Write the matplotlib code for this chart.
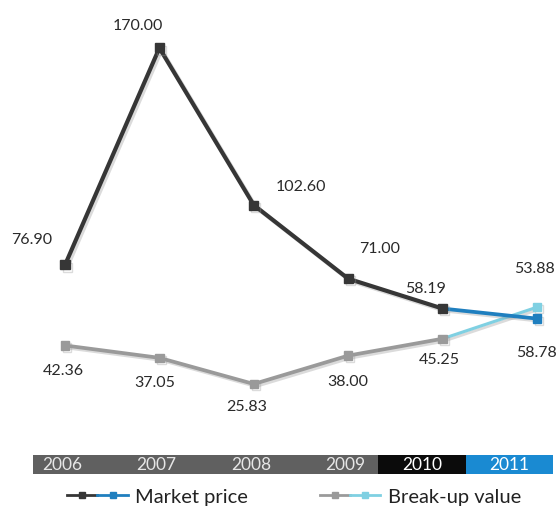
import matplotlib
matplotlib.use("Agg")
import matplotlib.pyplot as plt
import matplotlib.patheffects as pe
from matplotlib.lines import Line2D
from matplotlib.legend_handler import HandlerTuple

# data
years = ["2006", "2007", "2008", "2009", "2010", "2011"]
market_price = [76.90, 170.00, 102.60, 71.00, 58.19, 53.88]
breakup_value = [42.36, 37.05, 25.83, 38.00, 45.25, 58.78]

# label offsets in pixels (dx, dy) from each point
market_offsets = [(-33, 25), (-22, 22), (47, 18), (31, 30), (-17, 20), (-2, 50)]
breakup_offsets = [(-2, -26), (-5, -25), (-7, -23), (0, -26), (-3, -21), (0, -46)]

# year band segments: (first index, last index, colour)
band = [(0, 3, "#606060"), (4, 4, "#0b0b0b"), (5, 5, "#1a8ad2")]

plt.rcParams["font.family"] = ["Lato", "DejaVu Sans"]

dark, blue = "#363636", "#1f7fbf"
grey, cyan = "#9a9a9a", "#7fd0e2"
txt = "#2a2a2a"

fig = plt.figure(figsize=(5.6, 5.15), dpi=100)
ax = fig.add_axes([33 / 560, 75 / 515, 520 / 560, 420 / 515])
x = list(range(len(years)))
xlim = (-0.339, 5.17)

shadow = [pe.SimpleLineShadow(offset=(1.5, -1.5), shadow_color="#999999", alpha=0.35), pe.Normal()]

# grey part of each series, then the coloured last segment
ax.plot(x[-2:], breakup_value[-2:], color=cyan, lw=2.2, marker="s", ms=6,
        markevery=[1], zorder=2, path_effects=shadow)
ax.plot(x[:-1], breakup_value[:-1], color=grey, lw=2.7, marker="s", ms=6,
        zorder=3, path_effects=shadow)
ax.plot(x[-2:], market_price[-2:], color=blue, lw=2.7, marker="s", ms=6,
        markevery=[1], zorder=4, path_effects=shadow)
ax.plot(x[:-1], market_price[:-1], color=dark, lw=3.0, marker="s", ms=6.5,
        zorder=5, path_effects=shadow)

for i in x:
    ax.annotate(f"{market_price[i]:.2f}", (x[i], market_price[i]),
                xytext=market_offsets[i], textcoords="offset pixels",
                ha="center", va="center", fontsize=11.5, color=txt)
    ax.annotate(f"{breakup_value[i]:.2f}", (x[i], breakup_value[i]),
                xytext=breakup_offsets[i], textcoords="offset pixels",
                ha="center", va="center", fontsize=11.5, color=txt)

ax.set_xlim(*xlim)
ax.set_ylim(1.8, 182)
ax.axis("off")

# year band under the chart
bx = fig.add_axes([33 / 560, 41 / 515, 520 / 560, 19 / 515])
bx.set_xlim(*xlim)
bx.set_ylim(0, 1)
edges = [xlim[0], 3.32, 4.25, xlim[1]]
for k, (a, b, col) in enumerate(band):
    bx.axvspan(edges[k], edges[k + 1], color=col, lw=0)
    if a == b:
        bx.text((edges[k] + edges[k + 1]) / 2, 0.48, years[a], ha="center",
                va="center", color="white", fontsize=12.5)
    else:
        for i in range(a, b + 1):
            bx.text(x[i] - 0.03, 0.48, years[i], ha="center", va="center",
                    color="#e6e6e6", fontsize=12.5)
bx.axis("off")

# legend with a two-colour icon per series
h1 = (Line2D([], [], color=dark, lw=2, marker="s", ms=5),
      Line2D([], [], color=blue, lw=2, marker="s", ms=5))
h2 = (Line2D([], [], color=grey, lw=2, marker="s", ms=5),
      Line2D([], [], color=cyan, lw=2, marker="s", ms=5))
fig.legend([h1, h2], ["Market price", "Break-up value"],
           handler_map={tuple: HandlerTuple(ndivide=None, pad=0.0)},
           loc="center", bbox_to_anchor=(0.525, 0.035), ncol=2, frameon=False,
           handlelength=3.0, handletextpad=0.35, columnspacing=3.6,
           fontsize=14.5, labelcolor="#222222")

fig.savefig("out.png", dpi=100)
